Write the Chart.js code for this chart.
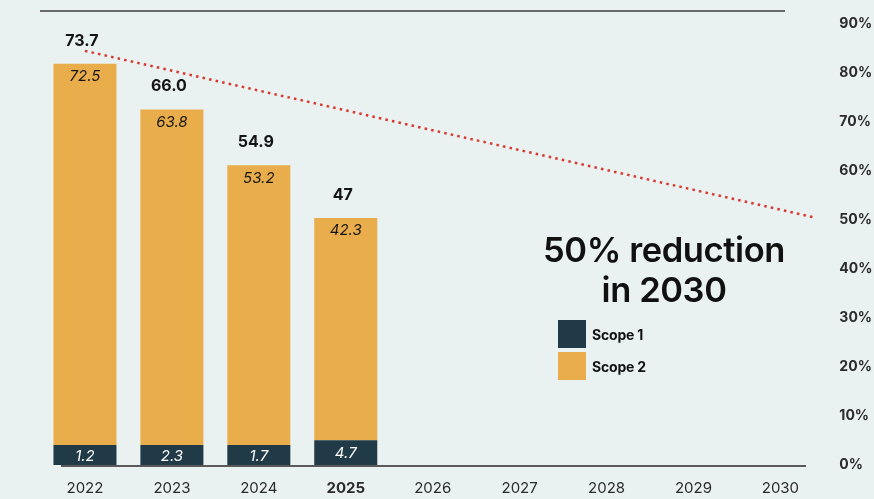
<!DOCTYPE html>
<html>
<head>
<meta charset="utf-8">
<script src="https://cdn.jsdelivr.net/npm/chart.js@4/dist/chart.umd.min.js"></script>
<style>
  html, body { margin: 0; padding: 0; background: #EAF2F1; }
  #wrap { position: relative; width: 874px; height: 499px; overflow: hidden; font-family: Inter, "Noto Sans", sans-serif; }
  #chart { position: absolute; left: 0; top: 0; }
  .note { position: absolute; left: 524px; width: 280px; top: 230px; text-align: center;
          font-weight: 600; font-size: 34.5px; line-height: 40px; color: #111; letter-spacing: -0.4px; }
  .legend { position: absolute; left: 558px; top: 320px; }
  .legend div { display: flex; align-items: center; height: 28px; margin-bottom: 4px;
                font-weight: 700; font-size: 14px; color: #111; letter-spacing: -0.2px; }
  .legend span { display: inline-block; width: 28px; height: 28px; margin-right: 6px; }
</style>
</head>
<body>
<div id="wrap">
  <canvas id="chart" width="874" height="499"></canvas>
  <div class="note">50% reduction<br>in 2030</div>
  <div class="legend" id="legend"></div>
</div>
<script>
// data
const years = ['2022', '2023', '2024', '2025', '2026', '2027', '2028', '2029', '2030'];
const scope1 = [1.2, 2.3, 1.7, 4.7];
const scope2 = [72.5, 63.8, 53.2, 42.3];
const totals = ['73.7', '66.0', '54.9', '47'];
const pctTicks = [0, 10, 20, 30, 40, 50, 60, 70, 80, 90];
// reduction path, x in category index units, y in %
const targetX = [0, 8.37];
const targetPct = [84.5, 50.6];

const NAVY = '#213A48';
const GOLD = '#E9AE4B';
const RED = '#D9362E';

// legend (html)
const legend = document.getElementById('legend');
[['Scope 1', NAVY], ['Scope 2', GOLD]].forEach(([name, color]) => {
    const row = document.createElement('div');
    row.innerHTML = `<span style="background:${color}"></span>${name}`;
    legend.appendChild(row);
});

// invisible-but-laid-out axis
const silent = (extra) => Object.assign({
    grid: { display: false, drawTicks: false },
    border: { display: false },
    ticks: { display: false }
}, extra);

// labels + rule lines
const decorations = {
    id: 'decorations',
    beforeDatasetsDraw(chart) {
        const { ctx, chartArea } = chart;
        ctx.save();
        ctx.strokeStyle = '#6a6a6a';
        ctx.lineWidth = 2;
        ctx.beginPath();
        ctx.moveTo(40, chartArea.top - 13);
        ctx.lineTo(785, chartArea.top - 13);
        ctx.stroke();
        ctx.restore();
    },
    afterDatasetsDraw(chart) {
        const { ctx, chartArea } = chart;
        const m1 = chart.getDatasetMeta(0);
        const m2 = chart.getDatasetMeta(1);
        ctx.save();
        // baseline
        ctx.strokeStyle = '#5a5a5a';
        ctx.lineWidth = 2;
        ctx.beginPath();
        ctx.moveTo(61, chartArea.bottom + 1);
        ctx.lineTo(806, chartArea.bottom + 1);
        ctx.stroke();

        ctx.textAlign = 'center';
        ctx.textBaseline = 'middle';
        m1.data.forEach((bar, i) => {
            ctx.fillStyle = '#ffffff';
            ctx.font = 'italic 15px Inter';
            ctx.fillText(scope1[i].toFixed(1), bar.x, (bar.y + bar.base) / 2 + 1);
        });
        m2.data.forEach((bar, i) => {
            ctx.fillStyle = '#151515';
            ctx.font = 'italic 15px Inter';
            ctx.fillText(scope2[i].toFixed(1), bar.x, bar.y + 13);
            ctx.font = '700 16px Inter';
            ctx.fillText(totals[i], bar.x - 3, bar.y - 23);
        });
        ctx.restore();
    }
};

new Chart(document.getElementById('chart'), {
    data: {
        labels: years,
        datasets: [
            {
                type: 'bar', label: 'Scope 1', data: scope1, stack: 'emissions', grouped: false,
                backgroundColor: NAVY, minBarLength: 20,
                barPercentage: 0.725, categoryPercentage: 1
            },
            {
                type: 'bar', label: 'Scope 2', data: scope2, stack: 'emissions', grouped: false,
                backgroundColor: GOLD,
                barPercentage: 0.725, categoryPercentage: 1
            },
            {
                type: 'line', label: 'Target',
                data: targetX.map((x, i) => ({ x, y: targetPct[i] })),
                xAxisID: 'x2', yAxisID: 'y2',
                borderColor: RED, borderWidth: 2.5, borderDash: [2.5, 4.2],
                pointRadius: 0, fill: false
            }
        ]
    },
    options: {
        responsive: false,
        animation: false,
        devicePixelRatio: 1,
        layout: { padding: { left: 41.5, top: 23, right: -14, bottom: -12 } },
        plugins: { legend: { display: false }, tooltip: { enabled: false } },
        scales: {
            x: {
                stacked: true,
                offset: true,
                grid: { display: false, drawTicks: false },
                border: { display: false },
                ticks: {
                    padding: 14,
                    maxRotation: 0,
                    color: '#2b2b2b',
                    font: (c) => ({ family: 'Inter', size: 15, weight: c.index === 3 ? '700' : '400' })
                }
            },
            x2: silent({ type: 'linear', position: 'top', min: -0.5, max: 8.5 }),
            y: silent({ stacked: true, position: 'left', min: 0, max: 83.9 }),
            y2: {
                position: 'right',
                min: 0, max: 90,
                grid: { display: false, drawTicks: false },
                border: { display: false },
                afterBuildTicks: (s) => { s.ticks = pctTicks.map(v => ({ value: v })); },
                ticks: {
                    padding: 15.5,
                    color: '#2b2b2b',
                    font: { family: 'Inter', size: 14, weight: '700' },
                    callback: (v) => v + '%'
                }
            }
        }
    },
    plugins: [decorations]
});
</script>
</body>
</html>
